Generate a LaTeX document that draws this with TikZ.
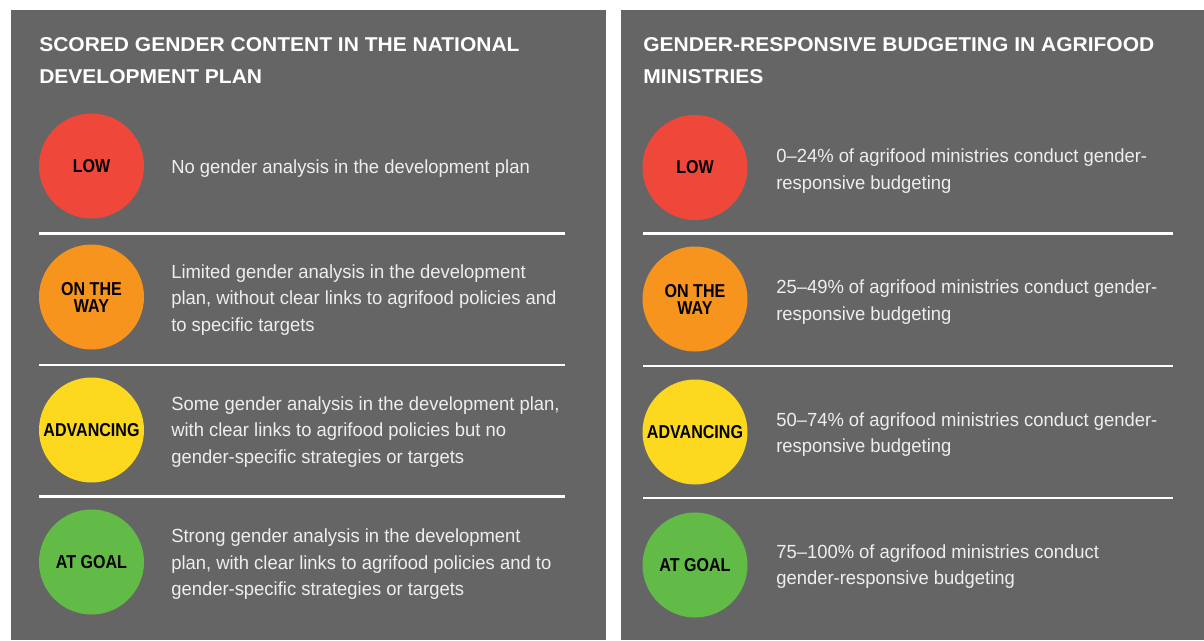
\documentclass[tikz,border=0pt]{standalone}
\usepackage{fontspec}
\setmainfont{Liberation Sans}
\newfontfamily\titlefont[FakeStretch=1.05]{Liberation Sans}
\newfontfamily\bodyfont[FakeStretch=0.97,Ligatures=TeX]{Liberation Sans}
\newfontfamily\labelfont[FakeStretch=0.86]{Liberation Sans}
\definecolor{panelgray}{HTML}{656565}
\definecolor{lowred}{HTML}{EF473A}
\definecolor{wayorange}{HTML}{F7941E}
\definecolor{advyellow}{HTML}{FCD91F}
\definecolor{goalgreen}{HTML}{63BB47}
\definecolor{bodywhite}{HTML}{EEEEEE}
\tikzset{
  panel/.style={fill=panelgray, draw=none},
  title/.style={anchor=base west, inner sep=0pt, align=left, text=white,
    font=\titlefont\bfseries\fontsize{15}{24}\selectfont},
  level/.style={circle, minimum size=78.75pt, inner sep=0pt, draw=none,
    align=center, text=black, font=\labelfont\bfseries\fontsize{14}{12.75}\selectfont},
  desc/.style={anchor=west, inner sep=0pt, align=left, text=bodywhite,
    font=\bodyfont\fontsize{14.25}{19.9}\selectfont},
  divider/.style={draw=white, line width=2pt}
}
\begin{document}
\begin{tikzpicture}[x=0.75pt,y=-0.75pt]
\useasboundingbox (0,0) rectangle (1204,640);
\fill[white] (0,0) rectangle (1204,640);
\fill[panel] (11,10) rectangle (606,640);
\fill[panel] (621,10) rectangle (1204,640);

% left panel
\node[title] (lt) at (39,83) {SCORED GENDER CONTENT IN THE NATIONAL\\DEVELOPMENT PLAN};
\node[level, fill=lowred] (l1) at (91.5,166) {LOW};
\node[level, fill=wayorange] (l2) at (91.5,297) {ON THE\\WAY};
\node[level, fill=advyellow] (l3) at (91.5,430) {ADVANCING};
\node[level, fill=goalgreen] (l4) at (91.5,562) {AT GOAL};
\node[desc] (d1) at (171,168.5) {No gender analysis in the development plan};
\node[desc] (d2) at (171,300) {Limited gender analysis in the development\\plan, without clear links to agrifood policies and\\to specific targets};
\node[desc] (d3) at (171,432) {Some gender analysis in the development plan,\\with clear links to agrifood policies but no\\gender-specific strategies or targets};
\node[desc] (d4) at (171,564.5) {Strong gender analysis in the development\\plan, with clear links to agrifood policies and to\\gender-specific strategies or targets};
\coordinate (la1) at (39,233.5); \coordinate (lb1) at (565,233.5);
\coordinate (la2) at (39,365); \coordinate (lb2) at (565,365);
\coordinate (la3) at (39,496.5); \coordinate (lb3) at (565,496.5);
\draw[divider] (la1) -- (lb1);
\draw[divider] (la2) -- (lb2);
\draw[divider] (la3) -- (lb3);

% right panel
\node[title] (rt) at (643,83) {GENDER-RESPONSIVE BUDGETING IN AGRIFOOD\\MINISTRIES};
\node[level, fill=lowred] (r1) at (695,167.5) {LOW};
\node[level, fill=wayorange] (r2) at (695,299) {ON THE\\WAY};
\node[level, fill=advyellow] (r3) at (695,432) {ADVANCING};
\node[level, fill=goalgreen] (r4) at (695,565) {AT GOAL};
\node[desc] (e1) at (776,171) {0–24\% of agrifood ministries conduct gender-\\responsive budgeting};
\node[desc] (e2) at (776,302) {25–49\% of agrifood ministries conduct gender-\\responsive budgeting};
\node[desc] (e3) at (776,434.5) {50–74\% of agrifood ministries conduct gender-\\responsive budgeting};
\node[desc] (e4) at (776,566.5) {75–100\% of agrifood ministries conduct\\gender-responsive budgeting};
\coordinate (ra1) at (643,233.5); \coordinate (rb1) at (1173,233.5);
\coordinate (ra2) at (643,366); \coordinate (rb2) at (1173,366);
\coordinate (ra3) at (643,498); \coordinate (rb3) at (1173,498);
\draw[divider] (ra1) -- (rb1);
\draw[divider] (ra2) -- (rb2);
\draw[divider] (ra3) -- (rb3);
\end{tikzpicture}
\end{document}
